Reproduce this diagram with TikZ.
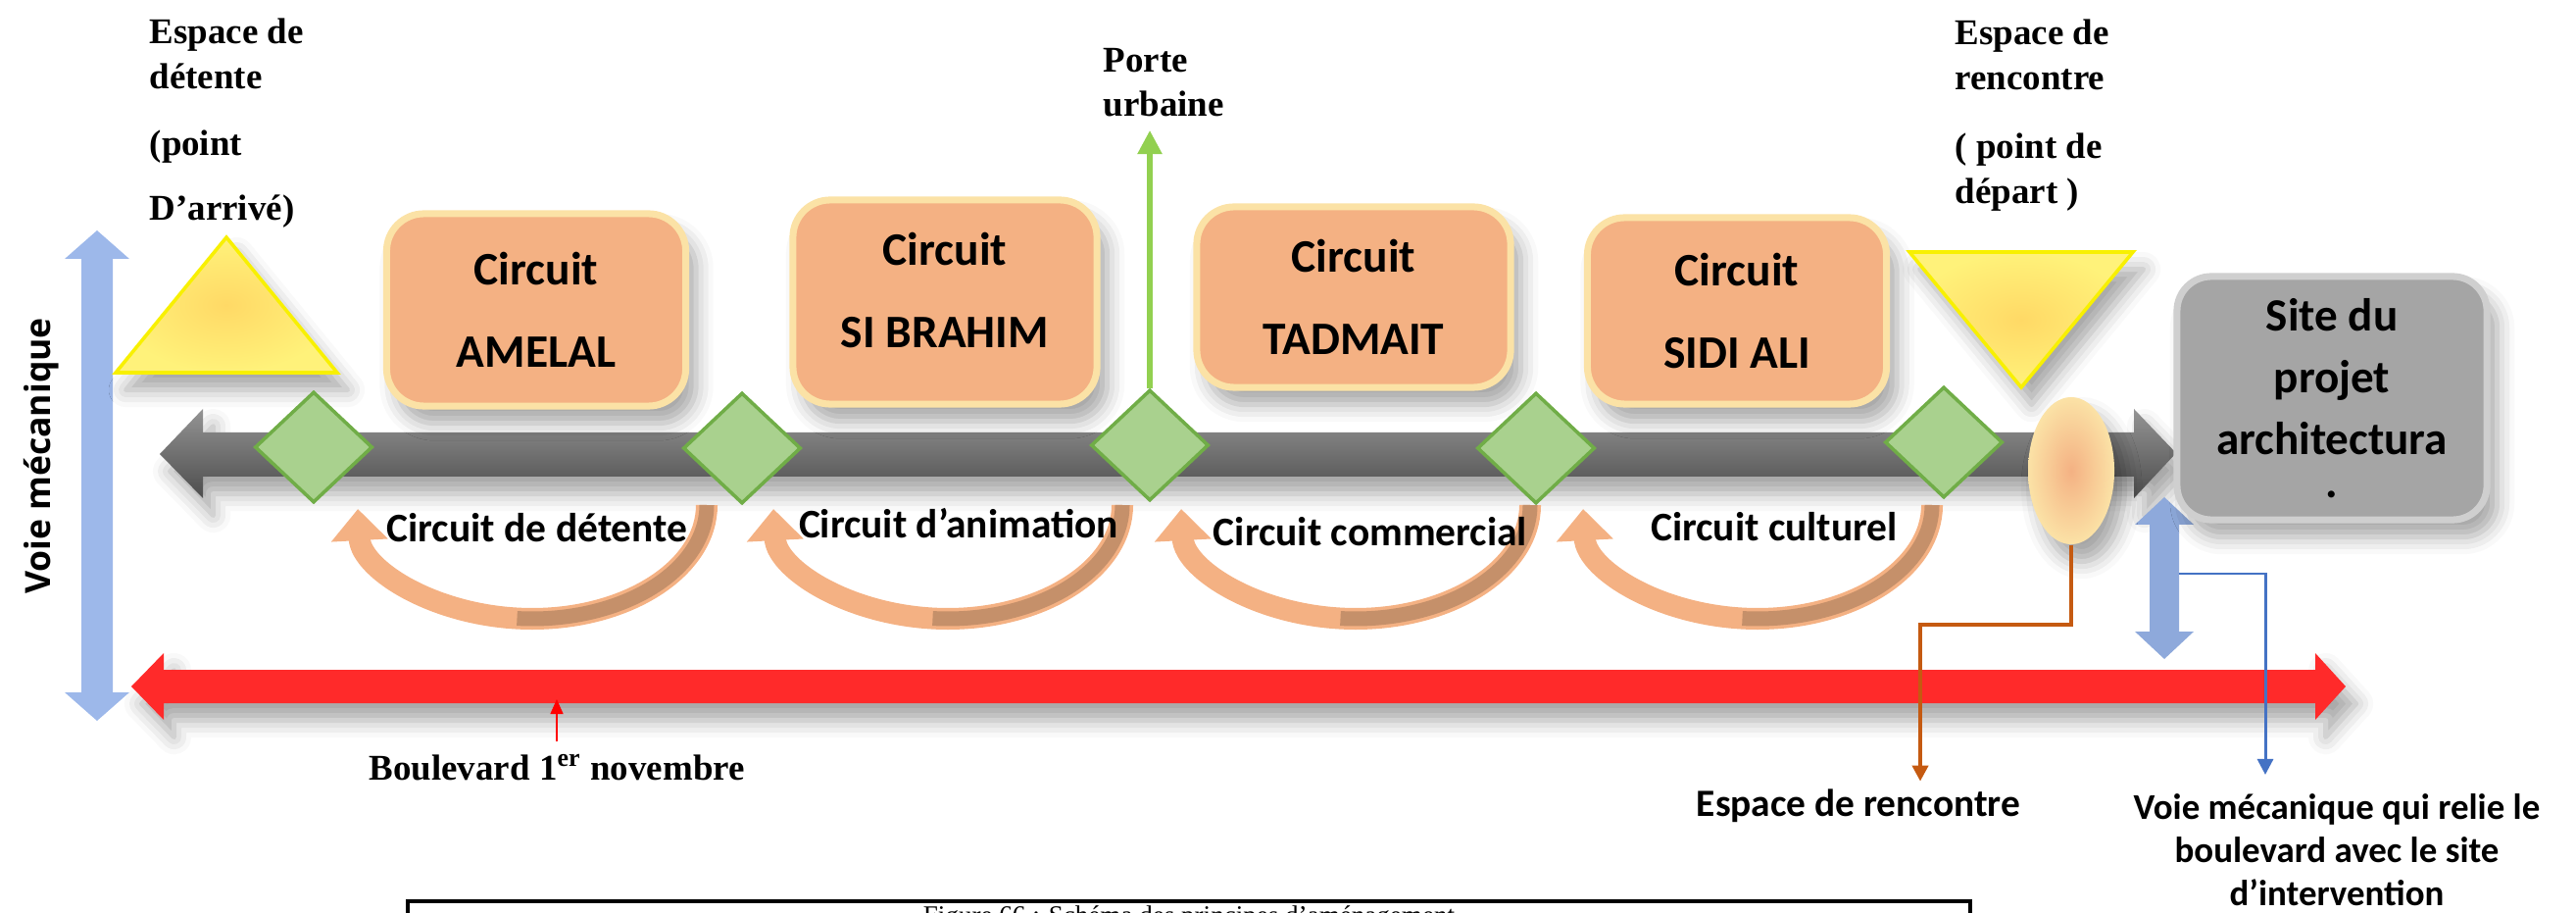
\documentclass[tikz,border=0pt]{standalone}
\usepackage{fontspec}
\setmainfont{Liberation Serif}
\newfontfamily\calib{Carlito}
\newfontfamily\voiefont{Open Sans}
\usetikzlibrary{arrows.meta,shapes.geometric,shadows.blur}

\definecolor{boxor}{HTML}{F4B183}
\definecolor{boxrim}{HTML}{FBE2A6}
\definecolor{arcback}{HTML}{C5906A}
\definecolor{diafill}{HTML}{A9D18E}
\definecolor{diadraw}{HTML}{70AD47}
\definecolor{yin}{HTML}{FFD966}
\definecolor{yout}{HTML}{FFF27A}
\definecolor{yrim}{HTML}{F8F000}
\definecolor{voieblue}{HTML}{9DB8EA}
\definecolor{smallblue}{HTML}{8EA9DB}
\definecolor{lineblue}{HTML}{4472C4}
\definecolor{lineorange}{HTML}{C55A11}
\definecolor{porteg}{HTML}{92D050}
\definecolor{redarr}{HTML}{FF2A2A}
\definecolor{redmid}{HTML}{DD2B2B}
\definecolor{sitegray}{HTML}{A5A5A5}
\definecolor{siterim}{HTML}{CFCFCF}

\tikzset{
  softshadow/.style={blur shadow={shadow xshift=3pt,shadow yshift=-5pt,shadow blur radius=5pt,shadow opacity=35}},
  circbox/.style={rounded corners=0.38cm, fill=boxor, draw=boxrim, line width=2pt,
    align=center, font=\calib\bfseries\fontsize{13.5}{24}\selectfont, softshadow},
  sitebox/.style={rounded corners=0.35cm, fill=sitegray, draw=siterim, line width=2pt,
    align=center, font=\calib\bfseries\fontsize{13.4}{17.9}\selectfont, softshadow},
  diam/.style={diamond, fill=diafill, draw=diadraw, line width=1pt,
    minimum width=1.2cm, minimum height=1.13cm, inner sep=0pt},
  serlabel/.style={font=\bfseries\fontsize{10.5}{13}\selectfont, align=left, inner sep=0pt},
  arclabel/.style={font=\calib\bfseries\fontsize{11.8}{14}\selectfont, inner sep=0pt},
  arcband/.style={line width=0.22cm, draw=boxor, -{Triangle[width=0.56cm,length=0.32cm]}},
  arcbrown/.style={line width=0.15cm, draw=arcback},
  conn/.style={line width=#1, -{Triangle[width=0.16cm,length=0.16cm]}},
}

\begin{document}
\begin{tikzpicture}[x=0.01cm,y=0.01cm]
\useasboundingbox (0,0) rectangle (2628,-931);
\clip (0,0) rectangle (2628,-931);

% voie pietonne (grise) et boulevard (rouge)
\path[softshadow, top color=black!42, middle color=black!34, bottom color=black!70]
  (163,-463) -- (207,-417) -- (207,-441) -- (2177,-441) -- (2177,-417) -- (2220,-462)
  -- (2177,-508) -- (2177,-486) -- (207,-486) -- (207,-508) -- cycle;
\path[softshadow, top color=redarr, middle color=redmid, bottom color=redarr]
  (134,-700) -- (167,-666) -- (167,-683) -- (2362,-683) -- (2362,-666) -- (2393,-700)
  -- (2362,-734) -- (2362,-717) -- (167,-717) -- (167,-734) -- cycle;

% voies mecaniques
\fill[voieblue] (99,-235) -- (132,-264) -- (115,-264) -- (115,-706) -- (132,-706)
  -- (99,-735) -- (66,-706) -- (83,-706) -- (83,-264) -- (66,-264) -- cycle;
\fill[smallblue] (2208,-507) -- (2238,-535) -- (2223,-535) -- (2223,-644) -- (2238,-644)
  -- (2208,-672) -- (2178,-644) -- (2193,-644) -- (2193,-535) -- (2178,-535) -- cycle;
\coordinate (vmstart) at (2223,-585);
\coordinate (vmbend) at (2311,-585);

% circuits
\node[circbox, minimum width=3.05cm, minimum height=1.96cm] (amelal) at (547,-316) {Circuit\\AMELAL};
\node[circbox, minimum width=3.10cm, minimum height=2.08cm] (sibrahim) at (964,-308)
  {Circuit\\SI BRAHIM\rule[-0.24cm]{0pt}{0.24cm}};
\node[circbox, minimum width=3.20cm, minimum height=1.84cm] (tadmait) at (1381,-303) {Circuit\\TADMAIT};
\node[circbox, minimum width=3.05cm, minimum height=1.90cm] (sidiali) at (1772,-317) {Circuit\\SIDI ALI};
\node[sitebox, minimum width=3.16cm, minimum height=2.48cm] (site) at (2379,-406)
  {Site du\\projet\\architectura\\[-5.5pt].};

% espaces de detente et de rencontre
\draw[softshadow, draw=yrim, line width=1pt, inner color=yin, outer color=yout]
  (231,-242) -- (344,-380) -- (118,-380) -- cycle;
\draw[softshadow, draw=yrim, line width=1pt, inner color=yin, outer color=yout]
  (1948,-257) -- (2176,-257) -- (2062,-395) -- cycle;

% noeuds
\node[diam] (d1) at (320,-456) {};
\node[diam] (d2) at (757,-457) {};
\node[diam] (d3) at (1173,-454) {};
\node[diam] (d4) at (1567,-457) {};
\node[diam] (d5) at (1983,-451) {};
\node[ellipse, minimum width=0.88cm, minimum height=1.5cm, inner sep=0pt,
  inner color=boxor, outer color=boxrim, softshadow] (ell) at (2113,-480) {};

% boucles des circuits
\foreach \cx in {543,967,1383,1793}{
  \draw[arcband] (\cx+178,-515) arc[start angle=0,end angle=-178,x radius=178,y radius=116];
  \draw[arcbrown] (\cx+178,-515) arc[start angle=0,end angle=-95,x radius=178,y radius=116];
}
\node[arclabel, anchor=base] (cdetente) at (548,-553) {Circuit de détente};
\node[arclabel, anchor=base] (canim) at (978,-548) {Circuit d’animation};
\node[arclabel, anchor=base] (ccomm) at (1398,-557) {Circuit commercial};
\node[arclabel, anchor=base] (ccult) at (1810,-552) {Circuit culturel};

% textes
\node[serlabel, anchor=north west] (detente) at (152,-18)
  {Espace de\\détente\\[6.5pt](point\\[5.7pt]D’arrivé)};
\node[serlabel, anchor=north west] (depart) at (1994,-19)
  {Espace de\\rencontre\\[7pt]( point de\\départ )};
\node[serlabel, anchor=south west, inner ysep=0.13cm] (porte) at (1125,-133) {Porte\\urbaine};
\node[rotate=90, font=\voiefont\bfseries\fontsize{10.1}{12}\selectfont] (voie) at (42,-465) {Voie mécanique};
\node[serlabel, anchor=base west] (boul) at (376,-795) {Boulevard 1\textsuperscript{er} novembre};
\node[font=\calib\bfseries\fontsize{11.2}{13}\selectfont, anchor=base, inner sep=0pt] (rencontre)
  at (1896,-832) {Espace de rencontre};
\node[font=\calib\bfseries\fontsize{10.5}{12.5}\selectfont, align=center, anchor=north, inner sep=0pt]
  (vmlabel) at (2384,-809) {Voie mécanique qui relie le\\boulevard avec le site\\d’intervention};

% fleches
\draw[porteg, line width=1.5pt, -{Triangle[width=0.24cm,length=0.24cm]}] (d3.north) -- (d3.north |- porte.south);
\coordinate (boulptr) at (568,-713);
\draw[red, line width=0.4pt, -{Triangle[width=0.13cm,length=0.15cm]}] (boul.north -| boulptr) ++(0,12) -- (boulptr);
\coordinate (erbend) at (1959,-637);
\draw[lineorange, conn=1.1pt, shorten >=0.07cm] (ell.south) |- (erbend) -- (erbend |- rencontre.north);
\draw[lineblue, conn=0.85pt, shorten >=0.19cm] (vmstart) -- (vmbend) -- (vmbend |- vmlabel.north);

% legende
\draw[line width=1pt] (416,-960) -- (416,-919) -- (2010,-919) -- (2010,-960);
\node[font=\fontsize{7.7}{9}\selectfont, anchor=base] (caption) at (1213,-942)
  {Figure 66 : Schéma des principes d’aménagement};
\end{tikzpicture}
\end{document}
